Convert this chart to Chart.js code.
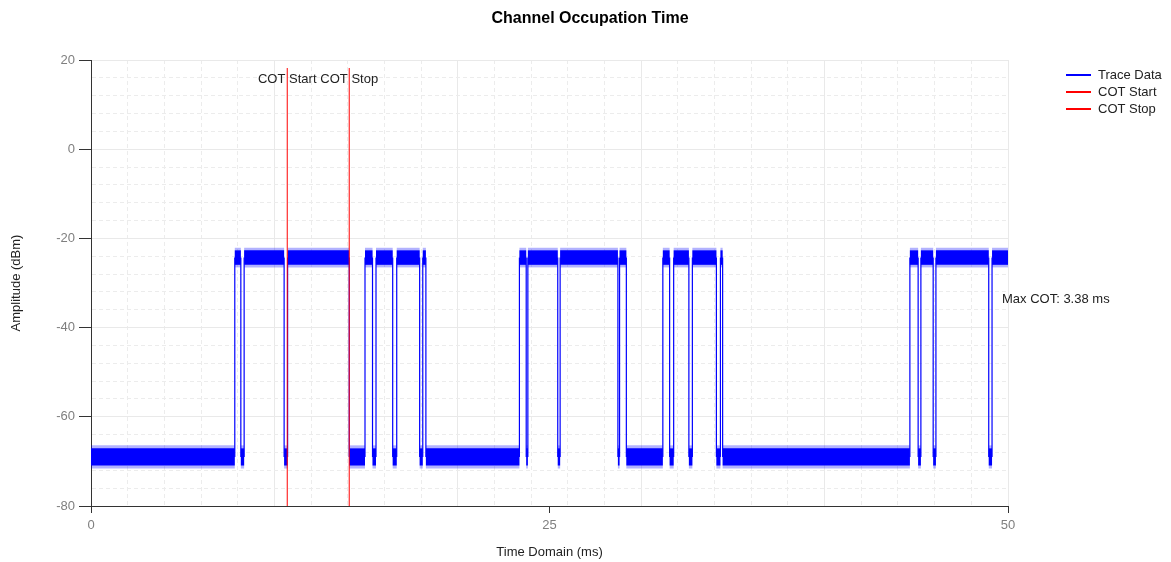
<!DOCTYPE html>
<html>
<head>
<meta charset="utf-8">
<script src="https://cdn.jsdelivr.net/npm/chart.js@4.4.1/dist/chart.umd.min.js"></script>
<style>
  html, body { margin: 0; padding: 0; background: #ffffff; }
  #wrap { width: 1171px; height: 562px; position: relative; }
</style>
</head>
<body>
<div id="wrap"><canvas id="c" width="1171" height="562"></canvas></div>
<script>
// ---- data ----
const chartTitle = 'Channel Occupation Time';
const xTitle = 'Time Domain (ms)';
const yTitle = 'Amplitude (dBm)';
const seriesNames = ['Trace Data', 'COT Start', 'COT Stop'];

// transition times of the trace (ms)
const edgeTimes = [0, 7.84, 8.17, 8.35, 10.53, 10.72, 14.08, 14.94, 15.35, 15.54, 16.45, 16.67,
  17.92, 18.09, 18.26, 23.36, 23.73, 23.82, 25.45, 25.58, 28.73, 28.82, 29.19, 31.18, 31.55,
  31.77, 32.60, 32.79, 34.10, 34.32, 34.44, 44.65, 45.10, 45.25, 45.92, 46.07, 48.95, 49.13, 50];
// mean level of each segment between those times (dBm)
const segmentLevels = [-69, -24.3, -69, -24.3, -69, -24.3, -69, -24.3, -69, -24.3, -69, -24.3,
  -69, -24.3, -69, -24.3, -69, -24.3, -69, -24.3, -69, -24.3, -69, -24.3, -69, -24.3, -69,
  -24.3, -69, -24.3, -69, -24.3, -69, -24.3, -69, -24.3, -69, -24.3];
// spread of the dense noise core and of the noise peaks on the on / off levels (dB)
const noiseCoreOn = 2.8, noisePeakOn = 4.4;
const noiseCoreOff = 3.4, noisePeakOff = 5.2;

const cotStart = 10.70;
const cotStop = 14.08;
const cotMarkerRange = [-80, 18.2];
const maxCotText = 'Max COT: 3.38 ms';

const xTickLabels = [0, 25, 50];
const yTickLabels = [-80, -60, -40, -20, 0, 20];

// ---- build datasets ----
const traceData = [];
for (let i = 0; i < segmentLevels.length; i++) {
  traceData.push({ x: edgeTimes[i], y: segmentLevels[i] });
  traceData.push({ x: edgeTimes[i + 1], y: segmentLevels[i] });
}
const startData = cotMarkerRange.map(v => ({ x: cotStart, y: v }));
const stopData = cotMarkerRange.map(v => ({ x: cotStop, y: v }));

const FONT = '"Liberation Sans", Arial, sans-serif';
const BLUE = '#0000ff';
const RED = '#ff0000';

function spreadPx(c, on, off) {
  const d = c.chart.data.datasets[c.datasetIndex].data;
  const a = d[c.p0DataIndex], b = d[c.p1DataIndex];
  if (!a || !b || a.y !== b.y) return null;
  const s = c.chart.scales.y;
  const spread = a.y > -45 ? on : off;
  return Math.abs(s.getPixelForValue(0) - s.getPixelForValue(spread));
}

const overlay = {
  id: 'overlay',
  afterDraw(chart) {
    const ctx = chart.ctx;
    const xs = chart.scales.x;
    ctx.save();
    ctx.fillStyle = '#000';
    ctx.font = 'bold 16px ' + FONT;
    ctx.textAlign = 'center';
    ctx.textBaseline = 'middle';
    ctx.fillText(chartTitle, 590, 19);
    ctx.font = '13px ' + FONT;
    ctx.fillStyle = '#222';
    ctx.fillText('COT Start', xs.getPixelForValue(cotStart), 79);
    ctx.fillText('COT Stop', xs.getPixelForValue(cotStop), 79);
    ctx.textAlign = 'left';
    ctx.fillText(maxCotText, chart.chartArea.right - 6, 299);
    const colors = [BLUE, RED, RED];
    seriesNames.forEach((name, i) => {
      const y = 75 + i * 17;
      ctx.strokeStyle = colors[i];
      ctx.lineWidth = 2;
      ctx.beginPath();
      ctx.moveTo(1066, y);
      ctx.lineTo(1091, y);
      ctx.stroke();
      ctx.fillStyle = '#222';
      ctx.fillText(name, 1098, y);
    });
    ctx.restore();
  }
};

const gridColor = (major) => major ? '#e9e9e9' : '#ececec';

new Chart(document.getElementById('c'), {
  type: 'line',
  data: {
    datasets: [
      {
        label: seriesNames[0],
        data: traceData,
        borderColor: BLUE,
        borderWidth: 1.2,
        pointRadius: 0,
        tension: 0,
        order: 2,
        segment: {
          borderWidth: c => { const w = spreadPx(c, noiseCoreOn, noiseCoreOff); return w === null ? 1.2 : w + 2; }
        }
      },
      {
        label: seriesNames[0] + ' peaks',
        data: traceData,
        borderColor: 'rgba(0,0,255,0.3)',
        borderWidth: 1,
        pointRadius: 0,
        tension: 0,
        order: 3,
        segment: {
          borderWidth: c => { const w = spreadPx(c, noisePeakOn, noisePeakOff); return w === null ? 1 : w; },
          borderColor: c => spreadPx(c, 1, 1) === null ? 'rgba(0,0,0,0)' : 'rgba(0,0,255,0.3)'
        }
      },
      {
        label: seriesNames[1],
        data: startData,
        borderColor: RED,
        borderWidth: 1,
        pointRadius: 0,
        order: 0
      },
      {
        label: seriesNames[2],
        data: stopData,
        borderColor: RED,
        borderWidth: 1,
        pointRadius: 0,
        order: 0
      }
    ]
  },
  options: {
    responsive: false,
    animation: false,
    events: [],
    layout: { padding: { top: 60, right: 163, left: 0, bottom: 0 } },
    plugins: {
      legend: { display: false },
      title: { display: false },
      tooltip: { enabled: false }
    },
    scales: {
      x: {
        type: 'linear',
        min: 0,
        max: 50,
        afterBuildTicks: scale => {
          const t = [];
          for (let v = 0; v <= 50; v += 2) t.push({ value: v });
          t.push({ value: 25 });
          t.sort((a, b) => a.value - b.value);
          scale.ticks = t;
        },
        afterFit: scale => { scale.height = 56; },
        ticks: {
          autoSkip: false,
          maxRotation: 0,
          padding: 5,
          color: '#7f7f7f',
          font: { family: FONT, size: 13 },
          callback: v => xTickLabels.includes(v) ? String(v) : ''
        },
        grid: {
          color: c => (c.tick && c.tick.value === 25) ? 'rgba(0,0,0,0)' : gridColor(c.tick && c.tick.value % 10 === 0),
          tickColor: c => (c.tick && xTickLabels.includes(c.tick.value)) ? '#333' : 'rgba(0,0,0,0)',
          tickLength: 7,
          lineWidth: 1
        },
        border: {
          display: true,
          color: '#333',
          width: 1,
          dash: c => (c.tick && c.tick.value % 10 !== 0) ? [4, 3] : []
        },
        title: {
          display: true,
          text: xTitle,
          color: '#222',
          font: { family: FONT, size: 13 },
          padding: { top: 0, bottom: 2 }
        }
      },
      y: {
        type: 'linear',
        min: -80,
        max: 20,
        afterFit: scale => { scale.width = 91; },
        ticks: {
          stepSize: 4,
          autoSkip: false,
          padding: 4,
          color: '#7f7f7f',
          font: { family: FONT, size: 13 },
          callback: v => yTickLabels.includes(v) ? String(v) : ''
        },
        grid: {
          color: c => gridColor(c.tick && c.tick.value % 20 === 0),
          tickColor: c => (c.tick && yTickLabels.includes(c.tick.value)) ? '#333' : 'rgba(0,0,0,0)',
          tickLength: 12,
          lineWidth: 1
        },
        border: {
          display: true,
          color: '#333',
          width: 1,
          dash: c => (c.tick && c.tick.value % 20 !== 0) ? [4, 3] : []
        },
        title: {
          display: true,
          text: yTitle,
          color: '#222',
          font: { family: FONT, size: 13 },
          padding: { top: 9, bottom: 0 }
        }
      }
    }
  },
  plugins: [overlay]
});
</script>
</body>
</html>
